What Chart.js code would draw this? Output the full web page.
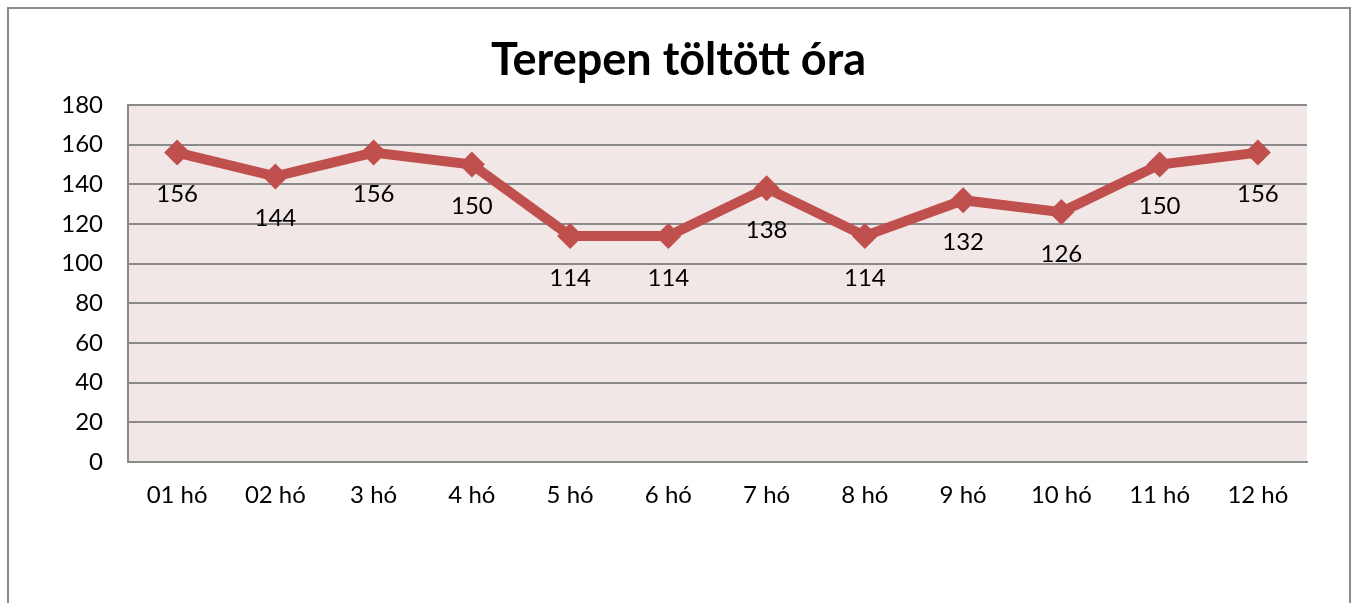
<!DOCTYPE html>
<html>
<head>
<meta charset="utf-8">
<script src="https://cdn.jsdelivr.net/npm/chart.js@4"></script>
<style>
    html, body { margin: 0; padding: 0; background: #ffffff; }
    #wrap { width: 1357px; height: 603px; }
</style>
</head>
<body>
<div id="wrap"><canvas id="lineChart" width="1357" height="603"></canvas></div>
<script>
const months = ['01 hó', '02 hó', '3 hó', '4 hó', '5 hó', '6 hó', '7 hó', '8 hó', '9 hó', '10 hó', '11 hó', '12 hó'];
const hours = [156, 144, 156, 150, 114, 114, 138, 114, 132, 126, 150, 156];
const yTicks = [0, 20, 40, 60, 80, 100, 120, 140, 160, 180];

const fontName = 'Lato, "Open Sans", sans-serif';

// pink plot background + outer frame
const backdrop = {
    id: 'backdrop',
    beforeDraw(chart) {
        const c = chart.ctx;
        const a = chart.chartArea;
        c.save();
        c.fillStyle = '#f2e7e7';
        c.fillRect(a.left, a.top, a.right - a.left, a.bottom - a.top);
        c.strokeStyle = '#8a8a8a';
        c.lineWidth = 2;
        c.strokeRect(8, 8, 1342, 620);
        c.restore();
    }
};

// value labels under each point
const valueLabels = {
    id: 'valueLabels',
    afterDatasetsDraw(chart) {
        const c = chart.ctx;
        const meta = chart.getDatasetMeta(0);
        c.save();
        c.font = '24px ' + fontName;
        c.fillStyle = '#000000';
        c.textAlign = 'center';
        c.textBaseline = 'middle';
        meta.data.forEach((pt, i) => {
            c.fillText(hours[i], pt.x, pt.y + 42);
        });
        c.restore();
    }
};

var ctx = document.getElementById('lineChart').getContext('2d');
var chart = new Chart(ctx, {
    type: 'line',
    data: {
        labels: months,
        datasets: [{
            data: hours,
            borderColor: '#c0504d',
            backgroundColor: '#c0504d',
            borderWidth: 10,
            pointStyle: 'rectRot',
            pointRadius: 13,
            pointHoverRadius: 13,
            pointBorderWidth: 0,
            tension: 0
        }]
    },
    options: {
        responsive: false,
        animation: false,
        layout: { padding: 0 },
        plugins: {
            legend: { display: false },
            tooltip: { enabled: false },
            title: {
                display: true,
                text: 'Terepen töltött óra',
                color: '#000000',
                font: { family: fontName, size: 45, weight: 'bold', lineHeight: 1.2 },
                padding: { top: 33, bottom: 18 }
            }
        },
        scales: {
            x: {
                offset: true,
                grid: { display: false, drawTicks: false },
                border: { display: true, color: '#8a8a8a', width: 2 },
                ticks: { color: '#000000', font: { family: fontName, size: 24 }, padding: 19, maxRotation: 0 },
                afterFit(scale) { scale.height = 141; }
            },
            y: {
                min: 0,
                max: 180,
                afterBuildTicks(scale) { scale.ticks = yTicks.map(v => ({ value: v })); },
                grid: { color: '#8a8a8a', lineWidth: 2, drawTicks: false },
                border: { display: true, color: '#8a8a8a', width: 2 },
                ticks: { color: '#000000', font: { family: fontName, size: 24 }, padding: 25 },
                afterFit(scale) { scale.width = 128; }
            },
            // empty right-hand spacer so the plot ends where the original does
            yRight: {
                position: 'right',
                min: 0,
                max: 180,
                grid: { display: false, drawTicks: false },
                border: { display: false },
                ticks: { display: false },
                afterFit(scale) { scale.width = 50; }
            }
        }
    },
    plugins: [backdrop, valueLabels]
});
</script>
</body>
</html>
